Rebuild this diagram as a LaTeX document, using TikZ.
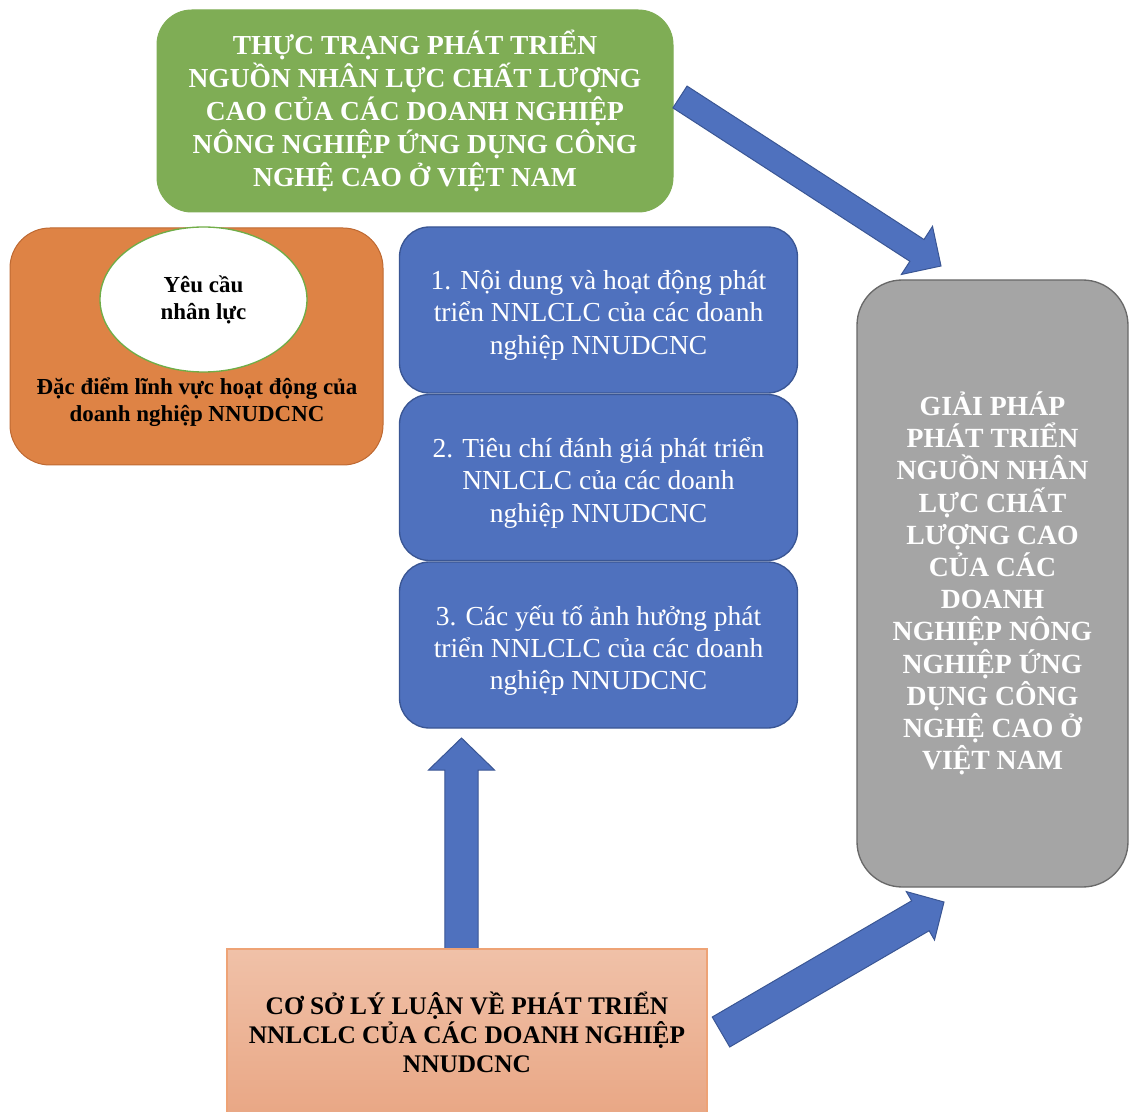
\documentclass[tikz,border=0pt]{standalone}
\usepackage{fontspec}
\setmainfont{Liberation Serif}
\usetikzlibrary{calc,shapes.geometric}
\tikzset{every picture/.style={line width=0.75pt}}

\definecolor{boxgreen}{RGB}{127,173,85}
\definecolor{boxorange}{RGB}{222,131,69}
\definecolor{edgeorange}{RGB}{190,105,50}
\definecolor{boxblue}{RGB}{79,113,190}
\definecolor{edgeblue}{RGB}{58,86,148}
\definecolor{boxgrey}{RGB}{165,165,165}
\definecolor{edgegrey}{RGB}{105,105,105}
\definecolor{salmontop}{RGB}{240,193,168}
\definecolor{salmonbot}{RGB}{233,167,133}
\definecolor{edgesalmon}{RGB}{238,163,118}
\definecolor{ringgreen}{RGB}{112,173,71}

\tikzset{
  greenbox/.style={rectangle, rounded corners=26pt, fill=boxgreen, draw=boxgreen, align=center, inner sep=0pt,
    minimum width=387pt, minimum height=151.5pt, text=white, font=\fontsize{20.6}{24.75}\selectfont\bfseries},
  orangebox/.style={rectangle, rounded corners=30pt, fill=boxorange, draw=edgeorange, inner sep=0pt,
    minimum width=279.75pt, minimum height=177.75pt},
  ringnode/.style={ellipse, fill=white, draw=ringgreen, line width=1pt, inner sep=0pt, align=center,
    minimum width=155.25pt, minimum height=108.75pt, font=\fontsize{17.2}{20.25}\selectfont\bfseries},
  orangetext/.style={align=center, inner sep=0pt, font=\fontsize{17.2}{20.25}\selectfont\bfseries},
  bluebox/.style={rectangle, rounded corners=22.5pt, fill=boxblue, draw=edgeblue, line width=1pt,
    inner sep=0pt, minimum width=298.5pt, minimum height=124.5pt},
  bluetext/.style={align=center, inner sep=0pt, text=white, font=\fontsize{20.6}{24.2}\selectfont},
  greybox/.style={rectangle, rounded corners=34pt, fill=boxgrey, draw=edgegrey, line width=1pt, align=center,
    inner sep=0pt, minimum width=203.25pt, minimum height=455.25pt, text=white, font=\fontsize{20.8}{24.15}\selectfont\bfseries},
  salmonbox/.style={rectangle, top color=salmontop, bottom color=salmonbot, draw=edgesalmon, line width=1pt,
    align=center, inner sep=0pt, minimum width=360pt, minimum height=124.5pt, font=\fontsize{19}{21.75}\selectfont\bfseries},
  arrowbody/.style={fill=boxblue, draw=edgeblue, line width=0.75pt, line join=miter},
}

% block arrow: tail, tip, shaft half width, head half width, head length
\newcommand{\blockarrow}[5]{%
  \coordinate (#1hb) at ($(#2)!#5!(#1)$);
  \draw[arrowbody] ($(#1)!#3!90:(#2)$) -- ($(#1hb)!#3!90:(#2)$) -- ($(#1hb)!#4!90:(#2)$) -- (#2)
    -- ($(#1hb)!#4!-90:(#2)$) -- ($(#1hb)!#3!-90:(#2)$) -- ($(#1)!#3!-90:(#2)$) -- cycle;
}

\begin{document}
\begin{tikzpicture}[x=0.75pt,y=0.75pt,yscale=-1,xscale=1]
\useasboundingbox (0,0) rectangle (1129,1112);

%Shape: Rounded Rect [id:thuctrang]
\node[greenbox] (thuctrang) at (415,111) {THỰC TRẠNG PHÁT TRIỂN\\NGUỒN NHÂN LỰC CHẤT LƯỢNG\\CAO CỦA CÁC DOANH NGHIỆP\\NÔNG NGHIỆP ỨNG DỤNG CÔNG\\NGHỆ CAO Ở VIỆT NAM};

%Shape: Rounded Rect [id:dacdiem]
\node[orangebox] (dacdiem) at (196.5,346.5) {};
%Shape: Ellipse [id:yeucau]
\node[ringnode] (yeucau) at (203.5,299.5) {Yêu cầu\\nhân lực};
% Text Node
\node[orangetext] (dacdiemtext) at (197,402) {Đặc điểm lĩnh vực hoạt động của\\doanh nghiệp NNUDCNC};

%Shape: Rounded Rect [id:noidung]
\node[bluebox] (noidung) at (598.5,310) {};
%Shape: Rounded Rect [id:tieuchi]
\node[bluebox] (tieuchi) at (598.5,477.5) {};
%Shape: Rounded Rect [id:yeuto]
\node[bluebox] (yeuto) at (598.5,645) {};
% Text Node
\node[bluetext] (noidungtext) at ([yshift=4pt]noidung.center) {1. Nội dung và hoạt động phát\\triển NNLCLC của các doanh\\nghiệp NNUDCNC};
% Text Node
\node[bluetext] (tieuchitext) at ([yshift=4pt]tieuchi.center) {2. Tiêu chí đánh giá phát triển\\NNLCLC của các doanh\\nghiệp NNUDCNC};
% Text Node
\node[bluetext] (yeutotext) at ([yshift=4pt]yeuto.center) {3. Các yếu tố ảnh hưởng phát\\triển NNLCLC của các doanh\\nghiệp NNUDCNC};

%Shape: Rounded Rect [id:giaiphap]
\node[greybox] (giaiphap) at (992.5,583.5) {GIẢI PHÁP\\PHÁT TRIỂN\\NGUỒN NHÂN\\LỰC CHẤT\\LƯỢNG CAO\\CỦA CÁC\\DOANH\\NGHIỆP NÔNG\\NGHIỆP ỨNG\\DỤNG CÔNG\\NGHỆ CAO Ở\\VIỆT NAM};

%Block Arrows
\coordinate (thucTail) at (680,97);
\coordinate (thucTip) at (941,266);
\blockarrow{thucTail}{thucTip}{9.75pt}{21.5pt}{21.5pt}
\coordinate (csTail) at (721,1032);
\coordinate (csTip) at (944,902);
\blockarrow{csTail}{csTip}{13pt}{21pt}{20.5pt}
\coordinate (upTail) at (461.5,950);
\coordinate (upTip) at (461.5,738);
\blockarrow{upTail}{upTip}{12.4pt}{24.75pt}{24pt}

%Shape: Rectangle [id:coso]
\node[salmonbox] (coso) at (467,1032) {CƠ SỞ LÝ LUẬN VỀ PHÁT TRIỂN\\NNLCLC CỦA CÁC DOANH NGHIỆP\\NNUDCNC};

\end{tikzpicture}
\end{document}
